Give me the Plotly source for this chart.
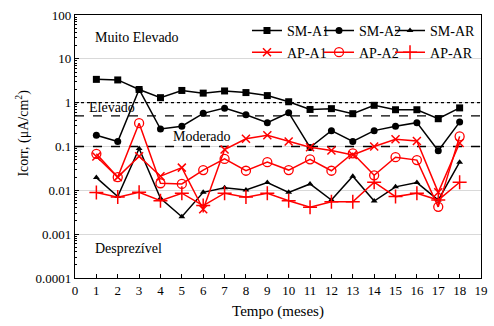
import math
import plotly.graph_objects as go

# Monthly readings of corrosion current density (µA/cm²)
months = list(range(1, 19))

sm_a1 = [3.4, 3.3, 2.0, 1.3, 1.9, 1.65, 1.85, 1.7, 1.45, 1.05, 0.70, 0.73, 0.56, 0.87, 0.69, 0.69, 0.43, 0.76]
sm_a2 = [0.18, 0.13, 2.0, 0.25, 0.29, 0.57, 0.75, 0.53, 0.35, 0.59, 0.095, 0.23, 0.13, 0.23, 0.29, 0.35, 0.08, 0.36]
sm_ar = [0.0195, 0.0072, 0.09, 0.0066, 0.0025, 0.009, 0.0115, 0.0102, 0.015, 0.009, 0.014, 0.006, 0.021, 0.0057, 0.012, 0.015, 0.006, 0.044]
ap_a1 = [0.059, 0.02, 0.06, 0.021, 0.033, 0.0037, 0.085, 0.15, 0.18, 0.13, 0.096, 0.081, 0.064, 0.10, 0.147, 0.134, 0.009, 0.12]
ap_a2 = [0.068, 0.02, 0.34, 0.0145, 0.014, 0.029, 0.052, 0.028, 0.044, 0.029, 0.051, 0.028, 0.07, 0.022, 0.057, 0.049, 0.0042, 0.17]
ap_ar = [0.0089, 0.007, 0.009, 0.0058, 0.0086, 0.0045, 0.0086, 0.007, 0.0086, 0.0058, 0.0041, 0.0055, 0.0055, 0.0153, 0.0072, 0.0086, 0.006, 0.0153]

# Risk thresholds (µA/cm²) and their line styles
limits = [1.0, 0.5, 0.1]
limit_dash = ["dot", "dash", "dash"]

# Region labels: (text, x, value)
regions = [
    ("Muito Elevado", 0.83, 30.0),
    ("Elevado", 0.55, 0.76),
    ("Moderado", 4.48, 0.165),
    ("Desprezível", 0.83, 0.00046),
]

FONT = "Liberation Serif"
BLACK = "#000000"
RED = "#FF0000"

fig = go.Figure()

# threshold lines across the full time span
for lv, dsh in zip(limits, limit_dash):
    fig.add_trace(go.Scatter(
        x=[0, 19], y=[lv, lv], mode="lines",
        line=dict(color=BLACK, width=1.3, dash=dsh),
        showlegend=False, hoverinfo="skip",
    ))

# each series gets its own legend slot so the key forms a 3 x 2 grid
series = [
    ("SM-A1", sm_a1, BLACK, dict(symbol="square", size=7, color=BLACK), "legend"),
    ("SM-A2", sm_a2, BLACK, dict(symbol="circle", size=7, color=BLACK), "legend2"),
    ("SM-AR", sm_ar, BLACK, dict(symbol="triangle-up", size=6, color=BLACK), "legend3"),
    ("AP-A1", ap_a1, RED, dict(symbol="x-thin", size=8, line=dict(color=RED, width=1.5)), "legend4"),
    ("AP-A2", ap_a2, RED, dict(symbol="circle-open", size=9, line=dict(color=RED, width=1.3)), "legend5"),
    ("AP-AR", ap_ar, RED, dict(symbol="cross-thin", size=10, line=dict(color=RED, width=1.5)), "legend6"),
]

for name, vals, col, mk, lg in series:
    fig.add_trace(go.Scatter(
        x=months, y=vals, name=name, mode="lines+markers",
        line=dict(color=col, width=1.5), marker=mk, legend=lg,
    ))

for txt, xv, yv in regions:
    fig.add_annotation(
        x=xv, y=math.log10(yv), text=txt, showarrow=False,
        xanchor="left", yanchor="middle",
        font=dict(family=FONT, size=14, color=BLACK),
    )

# y-axis title placed as a rotated label left of the tick labels
fig.add_annotation(
    xref="paper", yref="paper", x=-0.13, y=0.55,
    text="Icorr, (μA/cm<sup>2</sup>)", textangle=-90, showarrow=False,
    xanchor="center", yanchor="middle",
    font=dict(family=FONT, size=14, color=BLACK),
)

legend_style = dict(
    orientation="h", xanchor="left", yanchor="middle",
    bgcolor="rgba(0,0,0,0)", borderwidth=0, itemwidth=30,
    font=dict(family=FONT, size=14, color=BLACK),
)
col_x = [0.4236, 0.601, 0.7759]
row_y = [0.94, 0.857]

legends = {}
for i in range(6):
    key = "legend" if i == 0 else f"legend{i + 1}"
    legends[key] = dict(legend_style, x=col_x[i % 3], y=row_y[i // 3])

fig.update_layout(
    width=494, height=326,
    margin=dict(l=75, r=13, t=15, b=48, autoexpand=False),
    paper_bgcolor="white", plot_bgcolor="white",
    font=dict(family=FONT, size=13, color=BLACK),
    **legends,
)

fig.update_xaxes(
    range=[0, 19], dtick=1, tick0=0, automargin=False,
    showline=True, linecolor=BLACK, linewidth=1.2, mirror=True,
    ticks="inside", ticklen=4, tickcolor=BLACK,
    showgrid=False, zeroline=False,
    tickfont=dict(family=FONT, size=13, color=BLACK),
    title=dict(text="Tempo (meses)", font=dict(family=FONT, size=15, color=BLACK), standoff=8),
)

fig.update_yaxes(
    type="log", range=[-4, 2], dtick=1, automargin=False,
    tickvals=[0.0001, 0.001, 0.01, 0.1, 1, 10, 100],
    ticktext=["0.0001", "0.001", "0.01", "0.1", "1", "10", "100"],
    showline=True, linecolor=BLACK, linewidth=1.2, mirror=True,
    ticks="inside", ticklen=4, tickcolor=BLACK,
    minor=dict(dtick="D1", ticks="inside", ticklen=2, tickcolor=BLACK, showgrid=False),
    showgrid=True, gridcolor="#D9D9D9", gridwidth=1, zeroline=False,
    tickfont=dict(family=FONT, size=13, color=BLACK),
)

fig.write_html("out.html")
